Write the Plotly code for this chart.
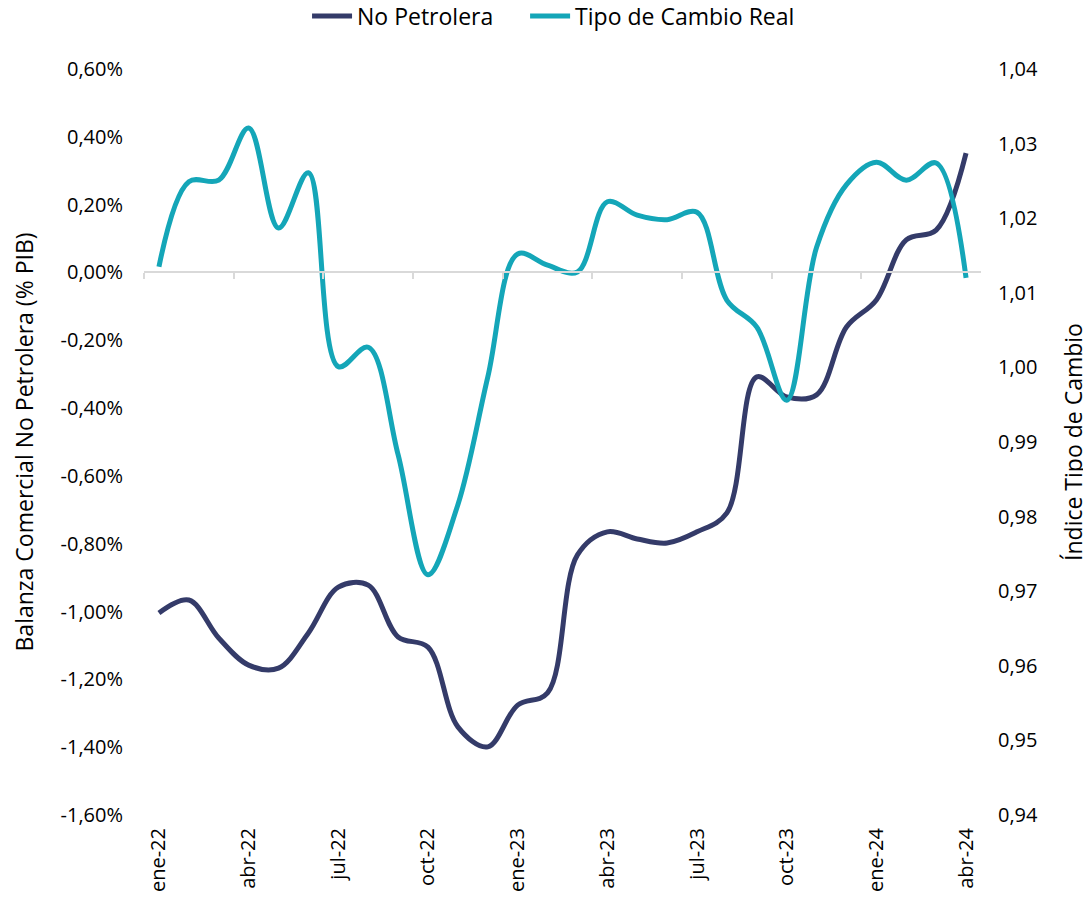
import plotly.graph_objects as go

months = ["ene-22", "feb-22", "mar-22", "abr-22", "may-22", "jun-22", "jul-22", "ago-22", "sep-22",
          "oct-22", "nov-22", "dic-22", "ene-23", "feb-23", "mar-23", "abr-23", "may-23", "jun-23",
          "jul-23", "ago-23", "sep-23", "oct-23", "nov-23", "dic-23", "ene-24", "feb-24", "mar-24", "abr-24"]

no_petrolera = [-1.004, -0.966, -1.078, -1.158, -1.167, -1.063, -0.928, -0.922, -1.075, -1.105,
                -1.340, -1.399, -1.276, -1.240, -0.833, -0.765, -0.786, -0.798, -0.765, -0.709,
                -0.308, -0.367, -0.361, -0.161, -0.081, 0.096, 0.125, 0.352]

tipo_cambio = [1.0135, 1.0249, 1.0251, 1.0321, 1.0187, 1.0261, 1.0001, 1.0027, 0.9883, 0.9722,
               0.9816, 0.9987, 1.0152, 1.0137, 1.0128, 1.0222, 1.0204, 1.0198, 1.0208, 1.0090,
               1.0054, 0.9956, 1.0161, 1.0245, 1.0275, 1.0251, 1.0274, 1.0120]

x_tick_idx = [0, 3, 6, 9, 12, 15, 18, 21, 24, 27]
x_tick_text = [months[i] for i in x_tick_idx]
quarter_bounds = [i - 0.5 for i in x_tick_idx[:-1]]

left_tick_vals = [-1.6, -1.4, -1.2, -1.0, -0.8, -0.6, -0.4, -0.2, 0.0, 0.2, 0.4, 0.6]
left_tick_text = ["-1,60%", "-1,40%", "-1,20%", "-1,00%", "-0,80%", "-0,60%", "-0,40%",
                  "-0,20%", "0,00%", "0,20%", "0,40%", "0,60%"]
right_tick_vals = [0.94, 0.95, 0.96, 0.97, 0.98, 0.99, 1.00, 1.01, 1.02, 1.03, 1.04]
right_tick_text = ["0,94", "0,95", "0,96", "0,97", "0,98", "0,99", "1,00", "1,01", "1,02", "1,03", "1,04"]

DARK = "#343B69"
CYAN = "#14A6B8"
FONT = "Open Sans"

xs = list(range(len(months)))

fig = go.Figure()
fig.add_trace(go.Scatter(x=xs, y=no_petrolera, name="No Petrolera", mode="lines",
                         line=dict(color=DARK, width=5, shape="spline", smoothing=1.0),
                         xaxis="x", yaxis="y", legend="legend"))
fig.add_trace(go.Scatter(x=xs, y=tipo_cambio, name="Tipo de Cambio Real", mode="lines",
                         line=dict(color=CYAN, width=5, shape="spline", smoothing=1.0),
                         xaxis="x", yaxis="y2", legend="legend2"))
# helper trace so the zero-line axis is drawn
fig.add_trace(go.Scatter(x=[None], y=[None], xaxis="x2", yaxis="y", showlegend=False,
                         hoverinfo="skip"))

legend_common = dict(orientation="h", xanchor="left", y=1.071, yanchor="middle",
                     font=dict(size=23), itemwidth=40, bgcolor="rgba(0,0,0,0)")

fig.update_layout(
    width=1083, height=893,
    paper_bgcolor="white", plot_bgcolor="white",
    margin=dict(l=136, r=110, t=61, b=86, autoexpand=False),
    font=dict(family=FONT, size=20, color="#000000"),
    showlegend=True,
    legend=dict(x=0.1948, **legend_common),
    legend2=dict(x=0.4553, **legend_common),
    xaxis=dict(range=[-0.5, 27.5], tickmode="array", tickvals=x_tick_idx, ticktext=x_tick_text,
               tickangle=-90, showgrid=False, showline=False, zeroline=False, ticks="",
               ticklabelstandoff=8, tickfont=dict(size=20)),
    xaxis2=dict(range=[-0.5, 27.5], overlaying="x", anchor="free", position=1.6 / 2.2,
                tickmode="array", tickvals=quarter_bounds, showticklabels=False,
                ticks="outside", ticklen=6, tickwidth=2, tickcolor="#D9D9D9",
                showline=True, linecolor="#D9D9D9", linewidth=2, showgrid=False, zeroline=False),
    yaxis=dict(range=[-1.6, 0.6], tickmode="array", tickvals=left_tick_vals, ticktext=left_tick_text,
               showgrid=False, zeroline=False, showline=False, ticks="",
               ticklabelstandoff=20,
               title=dict(text="Balanza Comercial No Petrolera (% PIB)", font=dict(size=23), standoff=20)),
    yaxis2=dict(range=[0.94, 1.04], overlaying="y", side="right", tickmode="array",
                tickvals=right_tick_vals, ticktext=right_tick_text,
                showgrid=False, zeroline=False, showline=False, ticks="",
                ticklabelstandoff=16,
                title=dict(text="Índice Tipo de Cambio", font=dict(size=23), standoff=28)),
)

fig.add_annotation(text="Fuente: BCE, SAE", xref="paper", yref="paper", x=-0.167, y=-0.1059,
                   xanchor="left", yanchor="top", showarrow=False, font=dict(size=23))

fig.write_html("out.html")
